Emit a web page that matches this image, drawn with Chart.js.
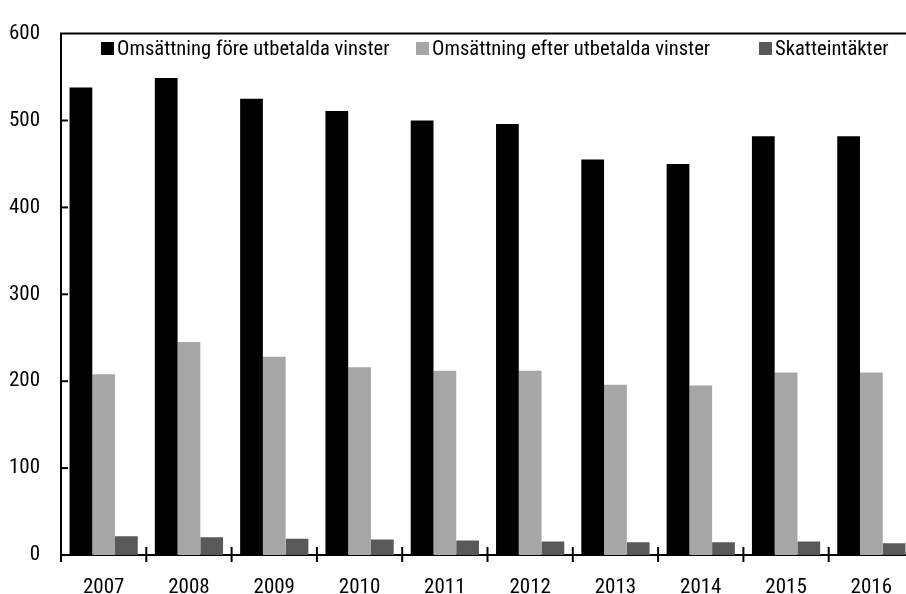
<!DOCTYPE html>
<html>
<head>
<meta charset="utf-8">
<script src="https://cdn.jsdelivr.net/npm/chart.js@4.4.1/dist/chart.umd.min.js"></script>
<style>
  html, body { margin: 0; padding: 0; background: #fff; overflow: hidden; }
  #wrap { position: relative; width: 914px; height: 594px; }
  #legend span.item { position: absolute; top: 36px; display: flex; align-items: center; white-space: nowrap;
    font-family: "Roboto Condensed", sans-serif; font-size: 20.6px; color: #000; }
  #legend span.box { display: inline-block; width: 13px; height: 13px; margin-right: 3px; }
</style>
</head>
<body>
<div id="wrap">
  <canvas id="chart"></canvas>
  <div id="legend"></div>
</div>
<script>
const years = ['2007', '2008', '2009', '2010', '2011', '2012', '2013', '2014', '2015', '2016'];
const series_names = ['Omsättning före utbetalda vinster', 'Omsättning efter utbetalda vinster', 'Skatteintäkter'];
const before_payout = [538, 549, 525, 511, 500, 496, 455, 450, 482, 482];
const after_payout = [208, 245, 228, 216, 212, 212, 196, 195, 210, 210];
const tax_income = [21.5, 20.3, 18.8, 17.7, 16.6, 15.4, 14.7, 14.7, 15.4, 13.5];
const y_ticks = [0, 100, 200, 300, 400, 500, 600];
const colors = ['#000000', '#a6a6a6', '#595959'];

const FONT = "'Roboto Condensed', sans-serif";
const LEGEND_LEFT = [101, 416, 759]; // px, where each legend swatch starts

// tick marks: inside on y, crossing on x, plus the top border line
const axisMarks = {
  id: 'axisMarks',
  afterDraw(chart) {
    const ctx = chart.ctx;
    const area = chart.chartArea;
    const x = chart.scales.x;
    const y = chart.scales.y;
    ctx.save();
    ctx.strokeStyle = '#000';
    ctx.lineWidth = 2;
    ctx.beginPath();
    ctx.moveTo(area.left - 1, area.top);
    ctx.lineTo(area.right, area.top);
    ctx.stroke();

    y_ticks.forEach(v => {
      if (v == 0 || v == 600) return;
      const py = y.getPixelForValue(v);
      ctx.beginPath();
      ctx.moveTo(area.left, py);
      ctx.lineTo(area.left + 7, py);
      ctx.stroke();
    });

    const half = (x.getPixelForValue(1) - x.getPixelForValue(0)) / 2;
    for (let i = 0; i <= years.length; i++) {
      const px = x.getPixelForValue(i) - half;
      ctx.beginPath();
      ctx.moveTo(px, i == 0 ? area.bottom : area.bottom - 8);
      ctx.lineTo(px, area.bottom + 7);
      ctx.stroke();
    }
    ctx.restore();
  }
};

const ctx = document.getElementById('chart').getContext('2d');
new Chart(ctx, {
  type: 'bar',
  data: {
    labels: years,
    datasets: [
      { label: series_names[0], data: before_payout, backgroundColor: colors[0] },
      { label: series_names[1], data: after_payout, backgroundColor: colors[1] },
      { label: series_names[2], data: tax_income, backgroundColor: colors[2] }
    ]
  },
  options: {
    responsive: true,
    maintainAspectRatio: false,
    animation: false,
    devicePixelRatio: 1,
    layout: { padding: { top: 23, left: 0, right: 0, bottom: 0 } },
    datasets: { bar: { categoryPercentage: 0.8, barPercentage: 1.0, borderWidth: 0 } },
    plugins: { legend: { display: false }, tooltip: { enabled: false } },
    scales: {
      x: {
        grid: { display: false },
        border: { display: true, color: '#000', width: 2 },
        ticks: { color: '#000', font: { family: FONT, size: 21 }, padding: 12, maxRotation: 0 },
        afterFit: scale => { scale.height = 39; }
      },
      y: {
        min: 0,
        max: 600,
        afterBuildTicks: scale => { scale.ticks = y_ticks.map(v => ({ value: v })); },
        grid: { display: false, drawTicks: false },
        border: { display: true, color: '#000', width: 2 },
        ticks: { color: '#000', font: { family: FONT, size: 21 }, padding: 21 },
        afterFit: scale => { scale.width = 61; }
      }
    }
  },
  plugins: [axisMarks]
});

// legend drawn as html so it can sit inside the plot frame
var legend = document.getElementById('legend');
series_names.forEach((name, i) => {
  var item = document.createElement('span');
  item.className = 'item';
  item.style.left = LEGEND_LEFT[i] + 'px';
  item.innerHTML = '<span class="box" style="background:' + colors[i] + '"></span>' + name;
  legend.appendChild(item);
});
</script>
</body>
</html>
